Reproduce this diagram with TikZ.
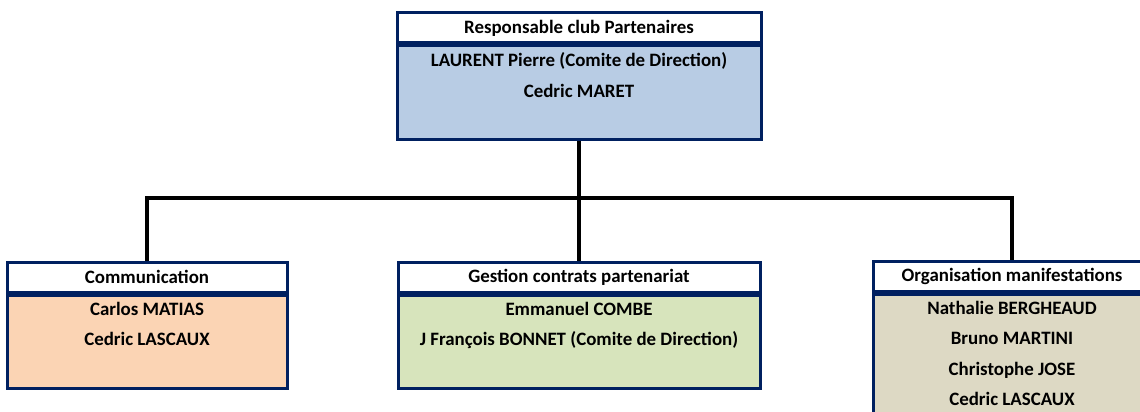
\documentclass[tikz,border=0pt]{standalone}
\usepackage{fontspec}
\setmainfont{Carlito}
\usetikzlibrary{positioning}
\definecolor{navy}{HTML}{002060}
\definecolor{bleu}{HTML}{B8CCE4}
\definecolor{peche}{HTML}{FBD4B4}
\definecolor{vert}{HTML}{D7E4BC}
\definecolor{sable}{HTML}{DDD9C4}
\newcommand{\finrow}{\rule[-5pt]{0pt}{0pt}}

\begin{document}
\begin{tikzpicture}[x=1pt, y=-1pt, node distance=0pt,
  head/.style = {draw=navy, line width=3pt, fill=white, minimum height=30pt, inner sep=0pt, font=\bfseries\fontsize{18.9}{30}\selectfont},
  team/.style = {draw=navy, line width=3pt, align=center, inner sep=0pt, font=\bfseries\fontsize{18.9}{30.5}\selectfont},
  conn/.style = {line width=3.2pt}]

\useasboundingbox (0,0) rectangle (1140,412);
\clip (0,0) rectangle (1140,412);

\node[head, minimum width=364pt] (resp) at (579,28) {Responsable club Partenaires};
\node[team, fill=bleu, minimum width=364pt, minimum height=93pt] (respteam) [below=of resp] {LAURENT Pierre (Comite de Direction)\\Cedric MARET\\ \finrow};

\node[head, minimum width=280pt] (comm) at (147,277) {Communication};
\node[team, fill=peche, minimum width=280pt, minimum height=93pt] (commteam) [below=of comm] {Carlos MATIAS\\Cedric LASCAUX\\ \finrow};

\node[head, minimum width=362pt] (gest) at (579,277) {Gestion contrats partenariat};
\node[team, fill=vert, minimum width=362pt, minimum height=93pt] (gestteam) [below=of gest] {Emmanuel COMBE\\J François BONNET (Comite de Direction)\\ \finrow};

\node[head, minimum width=278pt] (orga) at (1012,276) {Organisation manifestations};
\node[team, fill=sable, minimum width=278pt, minimum height=154pt] (orgateam) [below=of orga] {Nathalie BERGHEAUD\\Bruno MARTINI\\Christophe JOSE\\Cedric LASCAUX\\ \finrow};

\coordinate (bar) at (579,198);

\draw[conn] (respteam.south) -- (gest.north);
\draw[conn] (comm.north) |- (bar) -| (orga.north);

\end{tikzpicture}
\end{document}
